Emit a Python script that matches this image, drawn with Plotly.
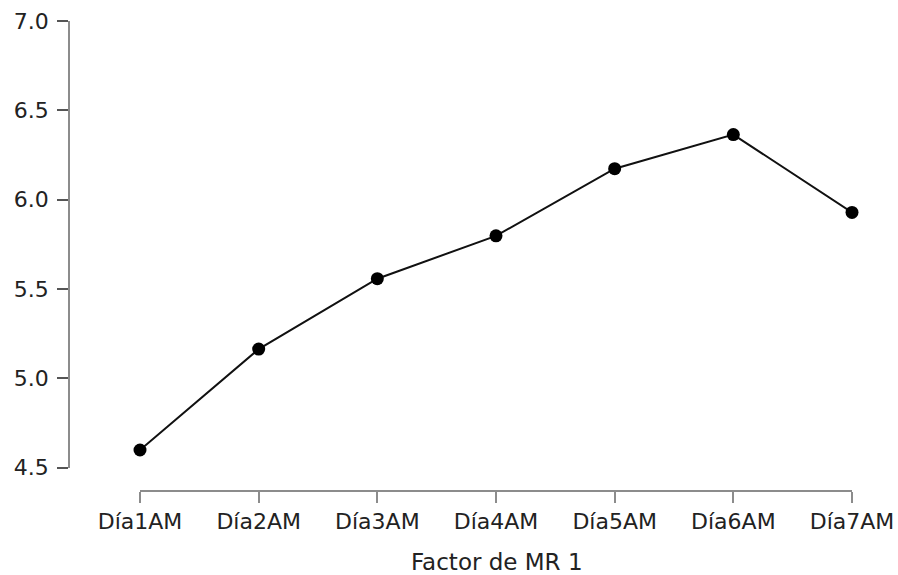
import plotly.graph_objects as go

categories = ["Día1AM", "Día2AM", "Día3AM", "Día4AM", "Día5AM", "Día6AM", "Día7AM"]
values = [4.598, 5.163, 5.557, 5.797, 6.173, 6.364, 5.928]
y_ticks = [4.5, 5.0, 5.5, 6.0, 6.5, 7.0]
x_title = "Factor de MR 1"

W, H = 898, 575
font_family = "DejaVu Sans"
axis_col = "#8c8c8c"
text_col = "#222222"

fig = go.Figure()
fig.add_trace(go.Scatter(
    x=categories, y=values, mode="lines+markers",
    line=dict(color="#111111", width=2),
    marker=dict(color="#000000", size=13),
    cliponaxis=False, showlegend=False,
))

fig.update_layout(
    width=W, height=H,
    margin=dict(l=0, r=0, t=0, b=0, pad=0, autoexpand=False),
    paper_bgcolor="white", plot_bgcolor="white",
    font=dict(family=font_family, size=22, color=text_col),
    xaxis=dict(
        type="category", categoryorder="array", categoryarray=categories,
        domain=[140 / W, 852 / W], range=[0, 6],
        anchor="free", position=1 - 491 / H, automargin=False,
        showline=True, linecolor=axis_col, linewidth=1.5,
        ticks="outside", ticklen=11, tickcolor=axis_col, tickwidth=1.5,
        showgrid=False, zeroline=False,
        tickfont=dict(family=font_family, size=22, color=text_col),
    ),
    yaxis=dict(
        domain=[1 - 467.5 / H, 1 - 21 / H], range=[4.5, 7.0],
        anchor="free", position=69 / W, automargin=False,
        tickvals=y_ticks, ticktext=[f"{v:.1f}" for v in y_ticks],
        showline=True, linecolor=axis_col, linewidth=1.5,
        ticks="outside", ticklen=11, tickcolor="#555555", tickwidth=1.5,
        ticklabelstandoff=4,
        showgrid=False, zeroline=False,
        tickfont=dict(family=font_family, size=22, color=text_col),
    ),
    annotations=[dict(
        text=x_title, xref="paper", yref="paper",
        x=497 / W, y=1 - 562 / H, xanchor="center", yanchor="middle",
        showarrow=False, font=dict(family=font_family, size=23, color=text_col),
    )],
)

fig.write_html(
    "out.html",
    config={"displayModeBar": False},
    post_script="document.body.style.margin='0';document.body.style.overflow='hidden';",
)
